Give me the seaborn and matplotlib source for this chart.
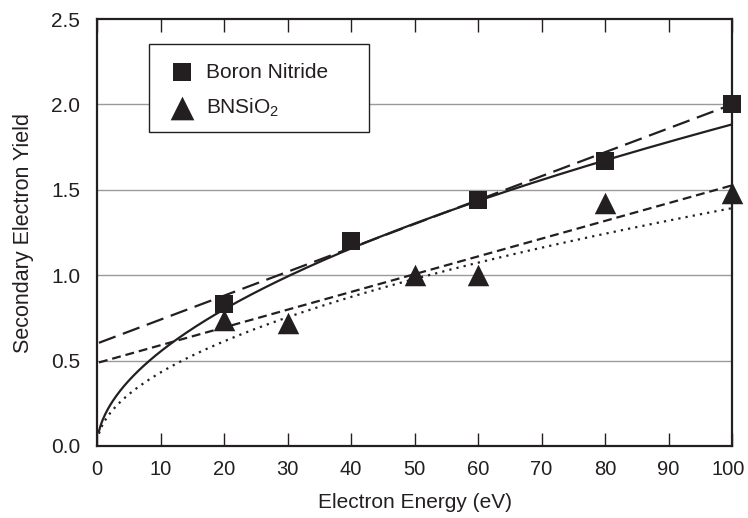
import numpy as np
import pandas as pd
import matplotlib
matplotlib.use("Agg")
import matplotlib.pyplot as plt
import matplotlib.transforms as mtransforms
from matplotlib.patches import Rectangle
import seaborn as sns

# Measured secondary electron yield
bn_energy = [20, 40, 60, 80, 100]
bn_yield = [0.83, 1.20, 1.44, 1.67, 2.00]
bnsio2_energy = [20, 30, 50, 60, 80, 100]
bnsio2_yield = [0.74, 0.72, 1.00, 1.00, 1.42, 1.48]

# Trend-line parameters (linear: a + b*E, power: c*E**p)
bn_linear = (0.60, 0.0140)
bn_power = (0.1625, 0.532)
bnsio2_linear = (0.486, 0.0104)
bnsio2_power = (0.133, 0.51)

series_labels = ["Boron Nitride", "BNSiO$_2$"]
x_ticks = [0, 10, 20, 30, 40, 50, 60, 70, 80, 90, 100]
y_ticks = [0.0, 0.5, 1.0, 1.5, 2.0, 2.5]

sns.set_style("white")
plt.rcParams["font.family"] = ["Liberation Sans", "DejaVu Sans"]
plt.rcParams["mathtext.fontset"] = "custom"
plt.rcParams["mathtext.rm"] = "Liberation Sans"
plt.rcParams["mathtext.it"] = "Liberation Sans"

ink = "#231f20"
fs = 15
fig = plt.figure(figsize=(7.48, 5.18), dpi=100)
ax = fig.add_axes([0.1297, 0.139, 0.849, 0.8243])

# Gridlines
for yv in y_ticks[1:-1]:
    ax.axhline(yv, color="#9a9a9a", lw=1.0, zorder=0)

# Trend lines
e = np.linspace(0.3, 100, 500)
trend = pd.DataFrame({
    "E": np.concatenate([e, e, e, e]),
    "Y": np.concatenate([
        bn_linear[0] + bn_linear[1] * e,
        bn_power[0] * e ** bn_power[1],
        bnsio2_linear[0] + bnsio2_linear[1] * e,
        bnsio2_power[0] * e ** bnsio2_power[1],
    ]),
    "fit": np.repeat(["bn_lin", "bn_pow", "si_lin", "si_pow"], len(e)),
})
styles = {
    "bn_lin": (0, (8, 3.5)),
    "bn_pow": "-",
    "si_lin": (0, (4, 2.2)),
    "si_pow": (0, (1, 2.3)),
}
for key, ls in styles.items():
    sub = trend[trend["fit"] == key]
    sns.lineplot(data=sub, x="E", y="Y", ax=ax, color=ink, lw=1.6,
                 linestyle=ls, legend=False, zorder=2)

# Data points
bn_df = pd.DataFrame({"E": bn_energy, "Y": bn_yield})
si_df = pd.DataFrame({"E": bnsio2_energy, "Y": bnsio2_yield})
sns.scatterplot(data=bn_df, x="E", y="Y", ax=ax, marker="s", s=150,
                color=ink, edgecolor=ink, linewidth=0, zorder=4,
                label=series_labels[0], clip_on=False)
sns.scatterplot(data=si_df, x="E", y="Y", ax=ax, marker="^", s=240,
                color=ink, edgecolor=ink, linewidth=0, zorder=4,
                label=series_labels[1], clip_on=False)

ax.set_xlim(0, 100)
ax.set_ylim(0, 2.5)
ax.set_xticks(x_ticks)
ax.set_yticks(y_ticks)
ax.set_yticklabels([f"{v:.1f}" for v in y_ticks])
ax.tick_params(axis="x", direction="in", length=9.5, width=1.0, color=ink,
               top=True, bottom=True, labelsize=14.5, labelcolor=ink, pad=10)
ax.tick_params(axis="y", length=0, labelsize=fs, labelcolor=ink, pad=12)
for s in ax.spines.values():
    s.set_visible(True)
    s.set_color(ink)
    s.set_linewidth(1.6)

# Keep the last x tick label inside the figure edge
last = ax.get_xticklabels()[-1]
last.set_transform(last.get_transform() +
                   mtransforms.ScaledTranslation(-4 / 100, 0, fig.dpi_scale_trans))

ax.set_xlabel("Electron Energy (eV)", fontsize=fs, color=ink, labelpad=10)
ax.set_ylabel("Secondary Electron Yield", fontsize=15.5, color=ink, labelpad=12)

# Legend box
ax.add_patch(Rectangle((0.082, 0.735), 0.346, 0.206, transform=ax.transAxes,
                       facecolor="white", edgecolor=ink, lw=1.0, zorder=5))
leg = ax.legend(loc="upper left", bbox_to_anchor=(0.082, 0.941),
                borderaxespad=0, frameon=False,
                fontsize=fs, handletextpad=0.45, borderpad=0.9,
                labelspacing=0.7, markerscale=1.1, handlelength=1.4)
leg.set_zorder(6)
for t in leg.get_texts():
    t.set_color(ink)

fig.savefig("out.png", dpi=100)
